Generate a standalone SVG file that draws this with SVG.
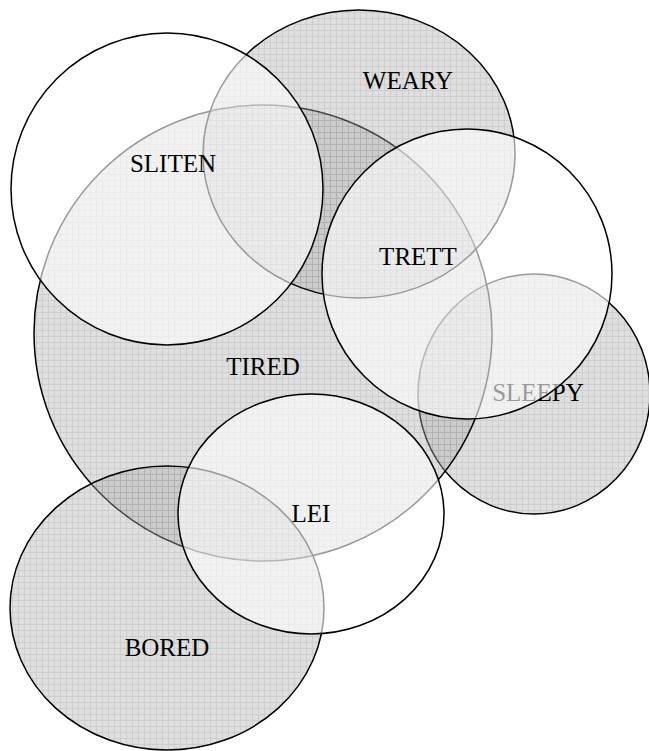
<svg xmlns="http://www.w3.org/2000/svg" width="649" height="751" viewBox="0 0 649 751">
<style>
.g{fill:url(#grid);fill-opacity:0.42;stroke:#000;stroke-width:1.5}
.w{fill:#fff;fill-opacity:0.6;stroke:#000;stroke-width:1.5}
text{font-family:"Liberation Serif","Times New Roman",serif;font-size:25px;fill:#000;text-anchor:middle}
</style>
<defs>
<pattern id="grid" width="6" height="6" patternUnits="userSpaceOnUse">
<rect width="6" height="6" fill="#b2b2b2"/>
<path d="M0 0.5H6M0.5 0V6" stroke="#8a8a8a" stroke-width="1"/>
</pattern>
</defs>
<rect width="649" height="751" fill="#fff"/>
<g id="sleepy"><ellipse class="g" cx="534" cy="394" rx="116" ry="120"/><text x="538" y="401">SLEEPY</text></g>
<g id="tired"><ellipse class="g" cx="263" cy="333" rx="229" ry="228"/><text x="263" y="375">TIRED</text></g>
<g id="weary"><ellipse class="g" cx="359" cy="154" rx="156" ry="144"/><text x="408" y="89">WEARY</text></g>
<g id="bored"><ellipse class="g" cx="167" cy="608" rx="157" ry="142"/><text x="167" y="656">BORED</text></g>
<g id="sliten"><ellipse class="w" cx="167" cy="189" rx="156" ry="156"/><text x="173" y="172">SLITEN</text></g>
<g id="trett"><ellipse class="w" cx="467" cy="274" rx="145" ry="145"/><text x="418" y="265">TRETT</text></g>
<g id="lei"><ellipse class="w" cx="311" cy="514" rx="133" ry="120"/><text x="311" y="522">LEI</text></g>
<g id="connectors"></g>
</svg>
